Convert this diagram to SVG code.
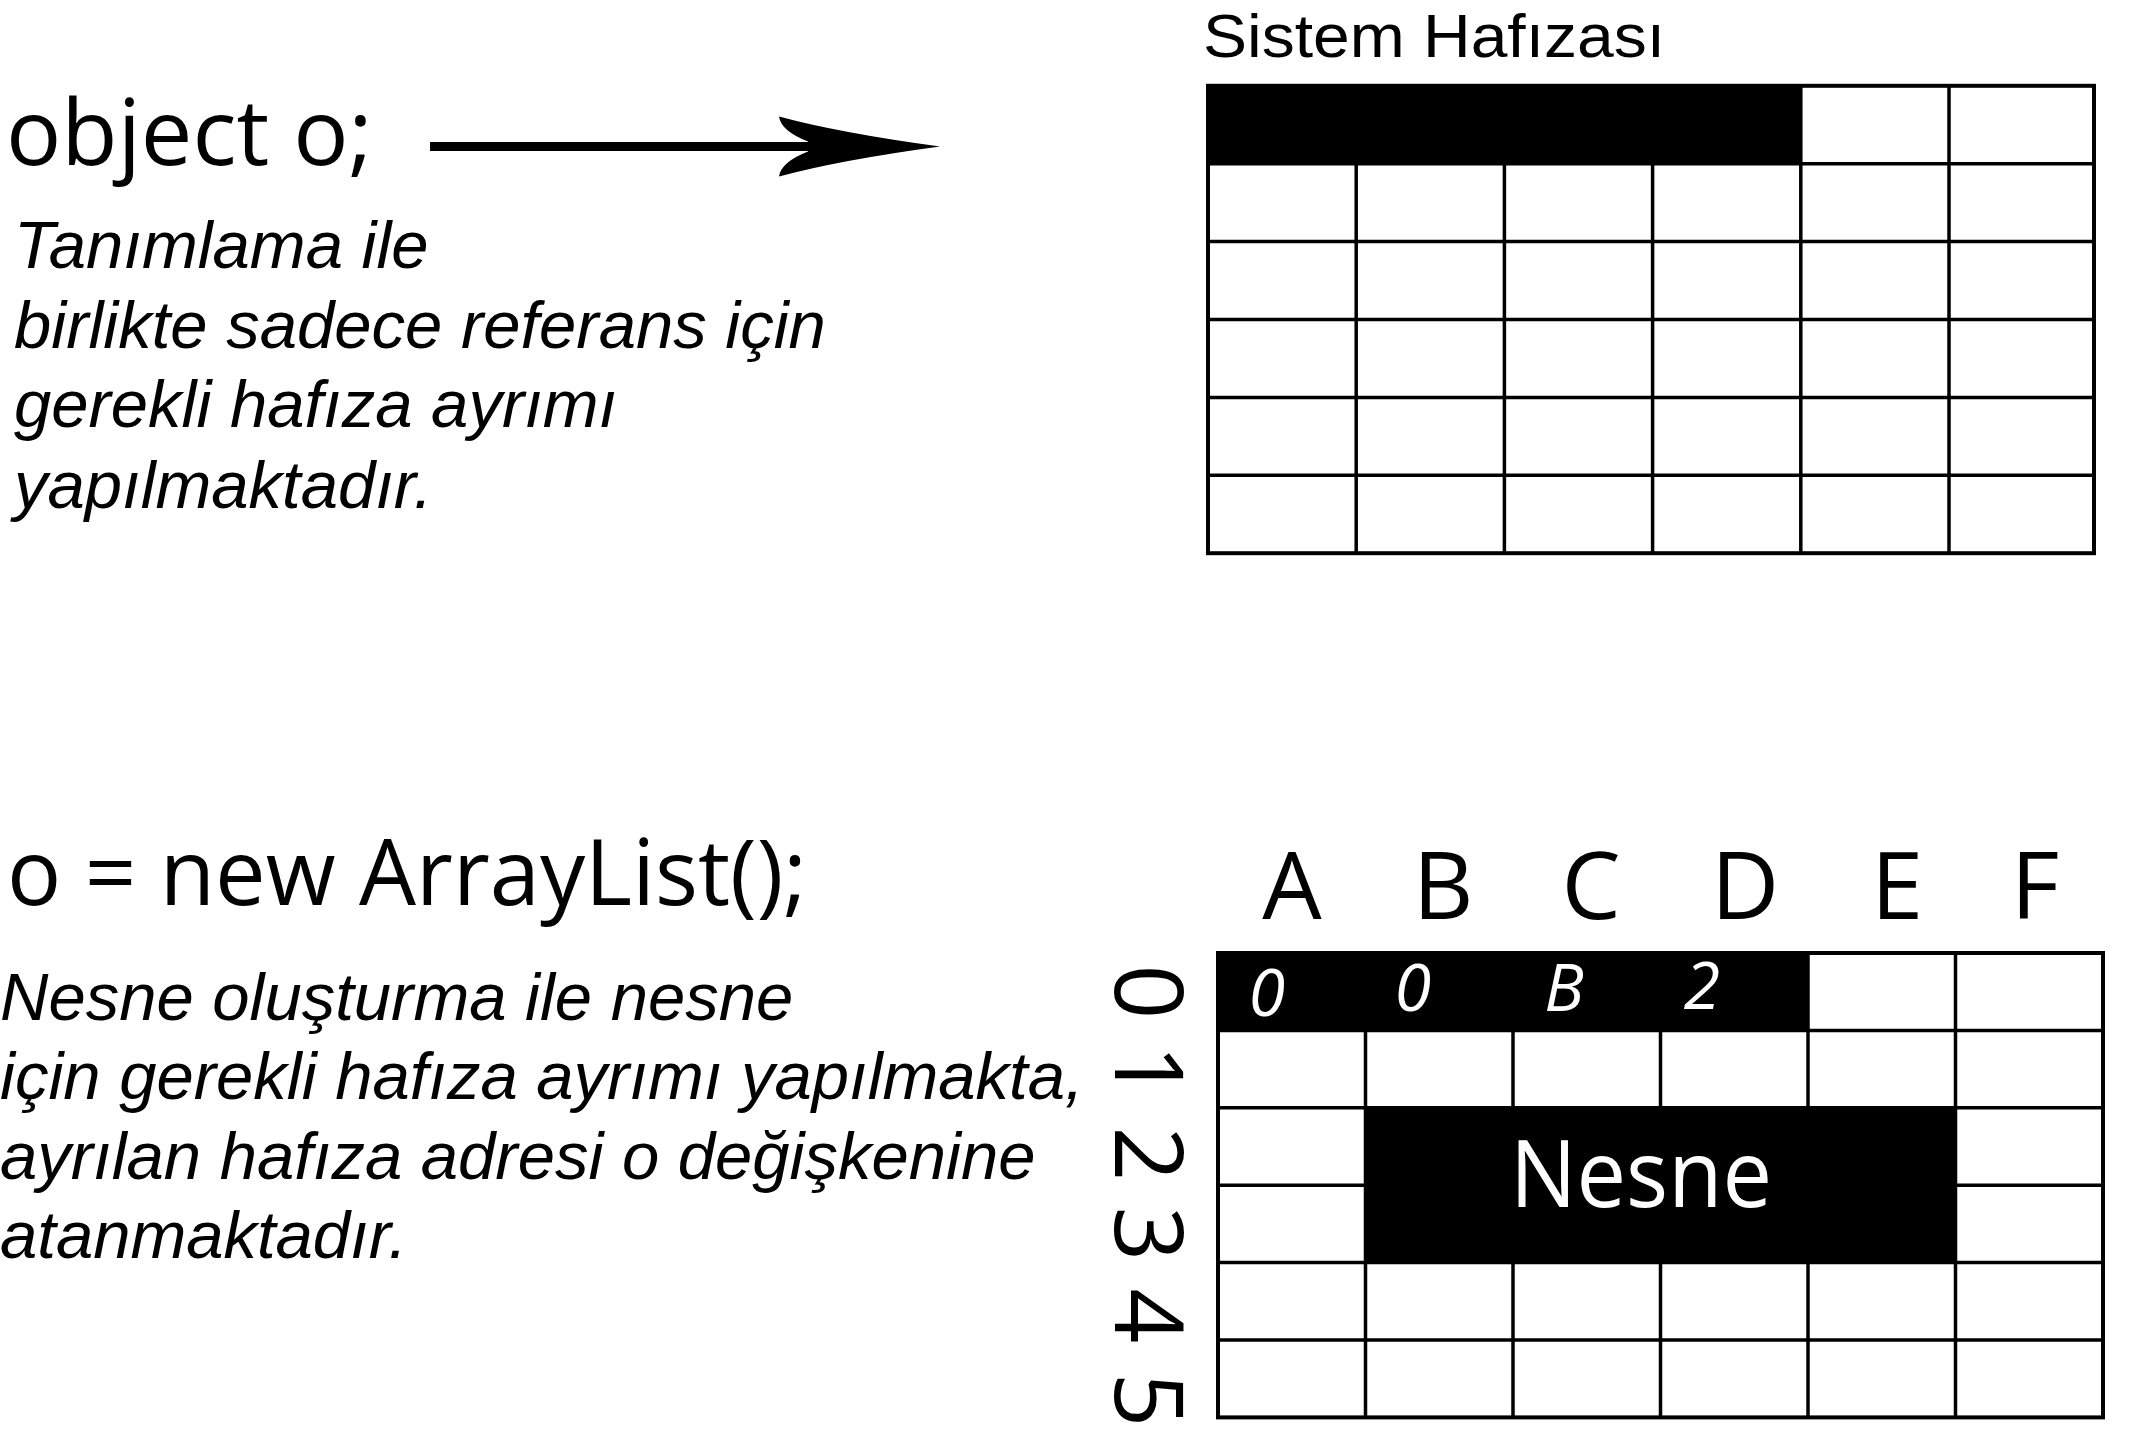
<svg xmlns="http://www.w3.org/2000/svg" width="2146" height="1454" viewBox="0 0 2146 1454">
<style>
.code{font-family:"Open Sans","Noto Sans",sans-serif;font-size:92px;fill:#000}
.desc{font-family:"Liberation Sans",Arial,sans-serif;font-style:italic;font-size:67px;fill:#000}
.title{font-family:"Liberation Sans",Arial,sans-serif;font-size:62px;fill:#000}
.hdr{font-family:"Open Sans","Noto Sans",sans-serif;font-size:94px;fill:#000;text-anchor:middle}
.cell{font-family:"Open Sans","Noto Sans",sans-serif;font-style:italic;font-size:66px;fill:#fff;text-anchor:middle}
.nesne{font-family:"Open Sans","Noto Sans",sans-serif;font-size:93px;fill:#fff;text-anchor:middle}
.grid{fill:none;stroke:#000;stroke-width:3.5}
.frame{fill:none;stroke:#000;stroke-width:4}
.blk{fill:#000}
</style>
<rect x="0" y="0" width="2146" height="1454" fill="#fff"/>

<g id="code-declare">
<text class="code" x="6" y="165">object o;</text>
</g>
<g id="desc-declare">
<text class="desc" x="14" y="268">Tanımlama ile</text>
<text class="desc" x="14" y="348">birlikte sadece referans için</text>
<text class="desc" x="14" y="427">gerekli hafıza ayrımı</text>
<text class="desc" x="14" y="508">yapılmaktadır.</text>
</g>

<g id="connectors">
<line x1="430" y1="146.5" x2="812" y2="146.5" stroke="#000" stroke-width="9"/>
<path d="M 940,146.5 Q 840,133 779,116.5 Q 781,131 808,141.5 L 808,151.5 Q 781,162 779,176.5 Q 840,160 940,146.5 Z" fill="#000"/>
</g>

<g id="system-memory">
<text class="title" x="1203" y="57" textLength="462" lengthAdjust="spacingAndGlyphs">Sistem Hafızası</text>
<rect class="blk" x="1208" y="85.8" width="592.8" height="77.9"/>
<path class="grid" d="M1356.2,85.8V553.2 M1504.4,85.8V553.2 M1652.6,85.8V553.2 M1800.8,85.8V553.2 M1949,85.8V553.2 M1208,163.7H2094 M1208,241.6H2094 M1208,319.5H2094 M1208,397.4H2094 M1208,475.3H2094"/>
<rect class="frame" x="1208" y="85.8" width="886" height="467.4"/>
</g>

<g id="code-new">
<text class="code" x="7" y="905" textLength="800" lengthAdjust="spacingAndGlyphs">o = new ArrayList();</text>
</g>
<g id="desc-new">
<text class="desc" x="0" y="1020">Nesne oluşturma ile nesne</text>
<text class="desc" x="0" y="1099">için gerekli hafıza ayrımı yapılmakta,</text>
<text class="desc" x="0" y="1179">ayrılan hafıza adresi o değişkenine</text>
<text class="desc" x="0" y="1258">atanmaktadır.</text>
</g>

<g id="memory-grid">
<g id="col-headers">
<text class="hdr" x="1292" y="919">A</text>
<text class="hdr" x="1443" y="919">B</text>
<text class="hdr" x="1591" y="919">C</text>
<text class="hdr" x="1745" y="919">D</text>
<text class="hdr" x="1897" y="919">E</text>
<text class="hdr" x="2035" y="919">F</text>
</g>
<g id="row-headers" font-family="Open Sans, Noto Sans, sans-serif" font-size="96" text-anchor="middle">
<text transform="translate(1115,992) rotate(90)">0</text>
<text transform="translate(1115,1072) rotate(90)">1</text>
<text transform="translate(1115,1154) rotate(90)">2</text>
<text transform="translate(1115,1234) rotate(90)">3</text>
<text transform="translate(1115,1316) rotate(90)">4</text>
<text transform="translate(1115,1400) rotate(90)">5</text>
</g>
<rect class="blk" x="1218" y="953" width="590" height="77.4"/>
<rect class="blk" x="1365.5" y="1107.8" width="590" height="154.8"/>
<path class="grid" d="M1365.5,953V1417.4 M1513,953V1417.4 M1660.5,953V1417.4 M1808,953V1417.4 M1955.5,953V1417.4 M1218,1030.4H2103 M1218,1107.8H2103 M1218,1185.2H2103 M1218,1262.6H2103 M1218,1340H2103"/>
<rect class="frame" x="1218" y="953" width="885" height="464.4"/>
<text class="cell" x="1267" y="1016">0</text>
<text class="cell" x="1413" y="1011">0</text>
<text class="cell" x="1564" y="1011">B</text>
<text class="cell" x="1702" y="1009">2</text>
<text class="nesne" x="1641" y="1207" textLength="262" lengthAdjust="spacingAndGlyphs">Nesne</text>
</g>
</svg>
